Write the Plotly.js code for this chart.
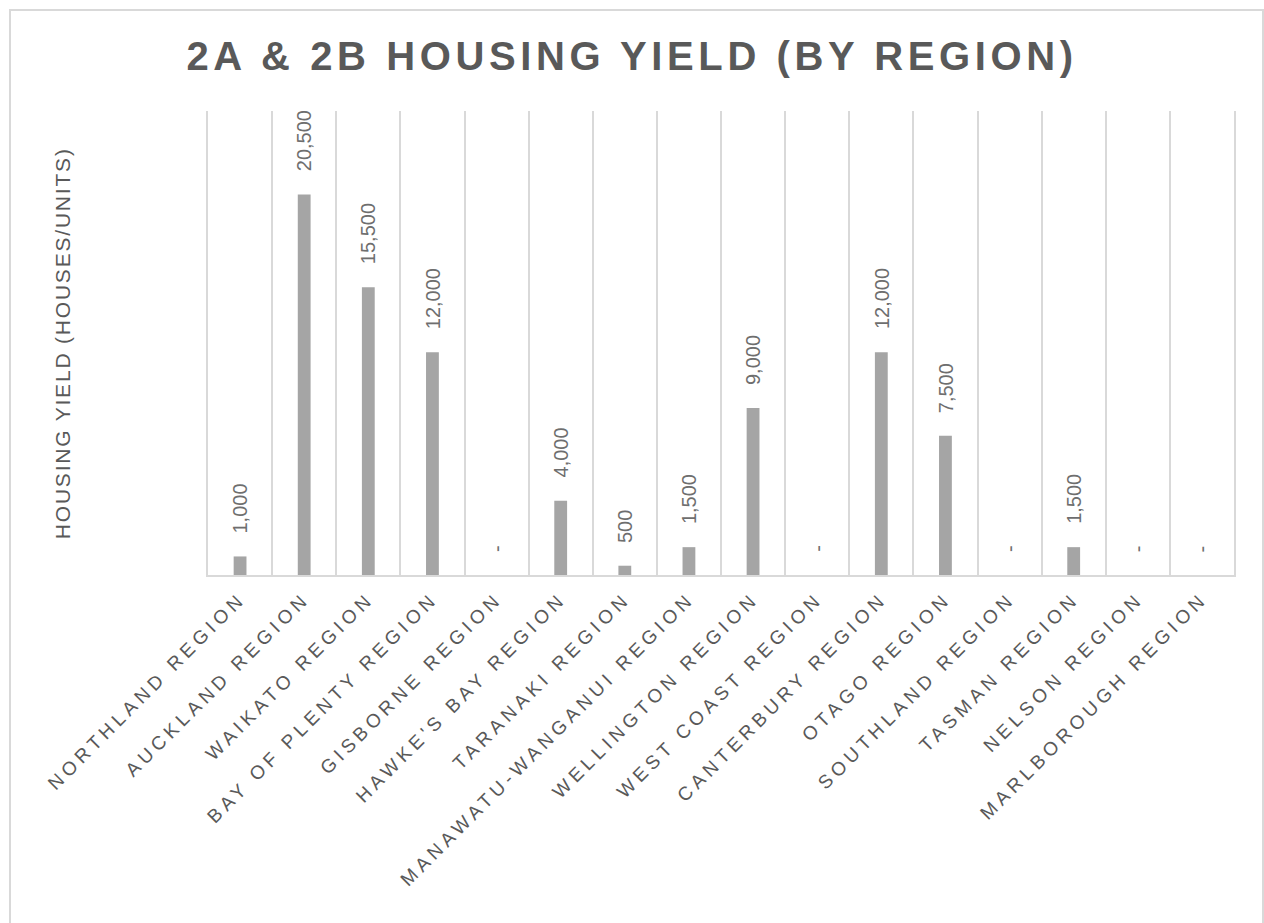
<!DOCTYPE html>
<html>
<head>
<meta charset="utf-8">
<script src="https://cdn.plot.ly/plotly-3.0.1.min.js"></script>
<style>
  html, body { margin: 0; padding: 0; background: #fff; }
  #chart { width: 1264px; height: 923px; }
  .xtick text { letter-spacing: 4.5px; }
  .gtitle { letter-spacing: 4.6px; }
  .ytitle-ann text { letter-spacing: 1.8px; }
</style>
</head>
<body>
<div id="chart"></div>
<script>
const regions = [
  "NORTHLAND REGION", "AUCKLAND REGION", "WAIKATO REGION", "BAY OF PLENTY REGION",
  "GISBORNE REGION", "HAWKE'S BAY REGION", "TARANAKI REGION", "MANAWATU-WANGANUI REGION",
  "WELLINGTON REGION", "WEST COAST REGION", "CANTERBURY REGION", "OTAGO REGION",
  "SOUTHLAND REGION", "TASMAN REGION", "NELSON REGION", "MARLBOROUGH REGION"
];
const housingYield = [1000, 20500, 15500, 12000, 0, 4000, 500, 1500, 9000, 0, 12000, 7500, 0, 1500, 0, 0];
const yMax = 25000;

const chartTitle = "2A &amp; 2B HOUSING YIELD (BY REGION)";
const yTitle = "HOUSING YIELD (HOUSES/UNITS)";

const W = 1264, H = 923;
const M = { l: 208, r: 30, t: 111, b: 348 };
const pw = W - M.l - M.r, ph = H - M.t - M.b;
const FONT = "Liberation Sans, Arial, sans-serif";

const fmt = v => v === 0 ? "-" : v.toLocaleString("en-US");
const px2x = p => (p - M.l) / pw;
const px2y = p => (H - M.b - p) / ph;

const annotations = regions.map((r, i) => ({
  x: r, y: housingYield[i], xref: "x", yref: "y",
  text: fmt(housingYield[i]), textangle: -90, showarrow: false,
  xanchor: "center", yanchor: "bottom", yshift: 21,
  font: { family: FONT, size: 20, color: "#6e6e6e" }
}));
annotations.push({
  xref: "paper", yref: "paper", x: px2x(62), y: px2y(343),
  xanchor: "center", yanchor: "middle", showarrow: false,
  text: yTitle, textangle: -90,
  font: { family: FONT, size: 21, color: "#595959" }
});

const trace = {
  type: "bar",
  x: regions,
  y: housingYield,
  marker: { color: "#a5a5a5" },
  hoverinfo: "x+y"
};

const layout = {
  width: W, height: H,
  margin: M,
  paper_bgcolor: "#ffffff",
  plot_bgcolor: "#ffffff",
  showlegend: false,
  bargap: 0.8,
  font: { family: FONT, color: "#595959" },
  title: {
    text: chartTitle,
    x: 0.5, xref: "container", xanchor: "center",
    y: 1 - 70 / H, yref: "container", yanchor: "bottom",
    font: { family: FONT, size: 40, color: "#595959", weight: "bold" }
  },
  xaxis: {
    type: "category",
    tickangle: -45,
    tickson: "boundaries",
    ticks: "",
    showgrid: true, gridcolor: "#d9d9d9", gridwidth: 2,
    showline: true, linecolor: "#d9d9d9", linewidth: 2,
    tickfont: { family: FONT, size: 19, color: "#595959" },
    ticklabelstandoff: 3,
    automargin: false,
    fixedrange: true
  },
  yaxis: {
    range: [0, yMax],
    showgrid: false, zeroline: false,
    showline: true, mirror: true, linecolor: "#d9d9d9", linewidth: 2,
    showticklabels: false, ticks: "",
    automargin: false,
    fixedrange: true
  },
  annotations: annotations,
  shapes: [{
    type: "rect", xref: "paper", yref: "paper",
    x0: px2x(10), x1: px2x(1263), y0: px2y(940), y1: px2y(10),
    line: { color: "#d9d9d9", width: 2 }, fillcolor: "rgba(0,0,0,0)", layer: "below"
  }]
};

Plotly.newPlot("chart", [trace], layout, { displayModeBar: false, staticPlot: true }).then(gd => {
  const anns = gd.querySelectorAll(".annotation");
  const last = anns[anns.length - 1];
  if (last) last.classList.add("ytitle-ann");
});
</script>
</body>
</html>
